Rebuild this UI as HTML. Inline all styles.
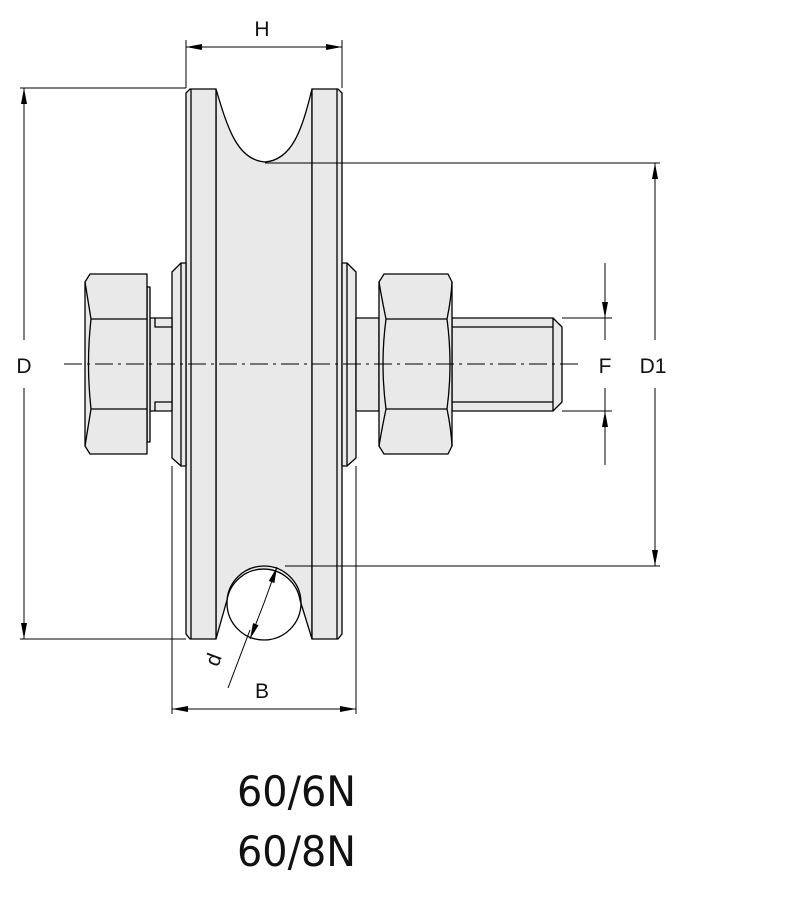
<!DOCTYPE html>
<html><head><meta charset="utf-8"><style>
html,body{margin:0;padding:0;background:#fff}
svg{display:block}
text{font-family:"Liberation Sans","DejaVu Sans",sans-serif;fill:#111}
</style></head><body>
<svg width="800" height="902" viewBox="0 0 800 902" xmlns="http://www.w3.org/2000/svg">
<defs>
<marker id="a" markerWidth="16" markerHeight="8" refX="16" refY="4" orient="auto" markerUnits="userSpaceOnUse">
<path d="M0,1 L16,4 L0,7 Z" fill="#000"/></marker>
</defs>
<g stroke="#000" stroke-width="1.3" fill="#e9e9e9" stroke-linejoin="round">
<path d="M216,89 C228,130 238,160 265,162 C292,160 302,130 312,89 L312,639 L300,600 A37,37 0 0 0 227,600 L216,639 Z"/>
<circle cx="264" cy="603" r="37" fill="none"/>
<path d="M190,89 L216,89 L216,639 L190,639 L186,634 L186,93 Z"/>
<line x1="191" y1="89" x2="191" y2="639"/>
<path d="M312,89 L338,89 L342,93 L342,634 L338,639 L312,639 Z"/>
<line x1="337" y1="89" x2="337" y2="639"/>
<path d="M181,263 L186,263 L186,466 L181,466 L172,458 L172,272 Z"/>
<line x1="181" y1="263" x2="181" y2="466"/>
<path d="M342,263 L347,263 L356,272 L356,458 L347,466 L342,466 Z"/>
<line x1="347" y1="263" x2="347" y2="466"/>
<path d="M150,318 L172,318 L172,411 L150,411 Z"/>
<path d="M155,318 L155,327 L172,327 M155,411 L155,402 L172,402" fill="none"/>
<path d="M147,287 L150,287 L150,442 L147,442 Z"/>
<path d="M90,274 L147,274 L147,454 L90,454 L85,446 L85,282 Z"/>
<path d="M85,282 Q88,300 91,319 L147,319 M85,446 Q88,428 91,409 L147,409 M91,319 Q86,364 91,409" fill="none"/>
<path d="M356,318 L379,318 L379,411 L356,411 Z"/>
<path d="M452,318 L553,318 L562,327 L562,402 L553,411 L452,411 Z"/>
<path d="M553,318 L553,411 M452,327 L553,327 M452,402 L553,402" fill="none"/>
<path d="M384,274 L448,274 L452,282 L452,446 L448,454 L384,454 L379,446 L379,282 Z"/>
<path d="M379,282 Q382,300 386,319 L447,319 Q451,300 452,282 M379,446 Q382,428 386,409 L447,409 Q451,428 452,446 M386,319 Q380,364 386,409 M447,319 Q453,364 447,409" fill="none"/>
</g>
<line x1="64" y1="364" x2="580" y2="364" stroke="#000" stroke-width="1" stroke-dasharray="18,5,3,5"/>
<g stroke="#000" stroke-width="1" fill="none">
<line x1="186" y1="40" x2="186" y2="88"/><line x1="342" y1="40" x2="342" y2="88"/>
<line x1="262" y1="47" x2="186" y2="47" marker-end="url(#a)"/><line x1="262" y1="47" x2="342" y2="47" marker-end="url(#a)"/>
<line x1="20" y1="88" x2="186" y2="88"/><line x1="20" y1="639" x2="186" y2="639"/>
<line x1="24" y1="340" x2="24" y2="88" marker-end="url(#a)"/><line x1="24" y1="388" x2="24" y2="639" marker-end="url(#a)"/>
<line x1="265" y1="163" x2="660" y2="163"/><line x1="285" y1="566" x2="660" y2="566"/>
<line x1="655" y1="340" x2="655" y2="163" marker-end="url(#a)"/><line x1="655" y1="388" x2="655" y2="566" marker-end="url(#a)"/>
<line x1="562" y1="318" x2="612" y2="318"/><line x1="562" y1="411" x2="612" y2="411"/>
<line x1="605" y1="263" x2="605" y2="318" marker-end="url(#a)"/><line x1="605" y1="465" x2="605" y2="411" marker-end="url(#a)"/>
<line x1="605" y1="318" x2="605" y2="340"/><line x1="605" y1="388" x2="605" y2="411"/>
<line x1="172" y1="466" x2="172" y2="714"/><line x1="356" y1="466" x2="356" y2="714"/>
<line x1="264" y1="709" x2="172" y2="709" marker-end="url(#a)"/><line x1="264" y1="709" x2="356" y2="709" marker-end="url(#a)"/>
<line x1="228" y1="688" x2="250" y2="630"/>
<line x1="264" y1="603" x2="250" y2="639" marker-end="url(#a)"/><line x1="264" y1="603" x2="277" y2="567" marker-end="url(#a)"/>
</g>
<g font-size="21">
<text x="262" y="36" text-anchor="middle">H</text>
<text x="24" y="373" text-anchor="middle">D</text>
<text x="605" y="373" text-anchor="middle">F</text>
<text x="653" y="373" text-anchor="middle">D1</text>
<text x="262" y="698" text-anchor="middle">B</text>
<text x="220" y="662" text-anchor="middle" transform="rotate(-70 220 662)">d</text>
</g>
<text x="237" y="806" font-size="42" style="font-family:'DejaVu Sans',sans-serif" textLength="119" lengthAdjust="spacingAndGlyphs">60/6N</text>
<text x="237" y="866" font-size="42" style="font-family:'DejaVu Sans',sans-serif" textLength="119" lengthAdjust="spacingAndGlyphs">60/8N</text>
</svg>
</body></html>
